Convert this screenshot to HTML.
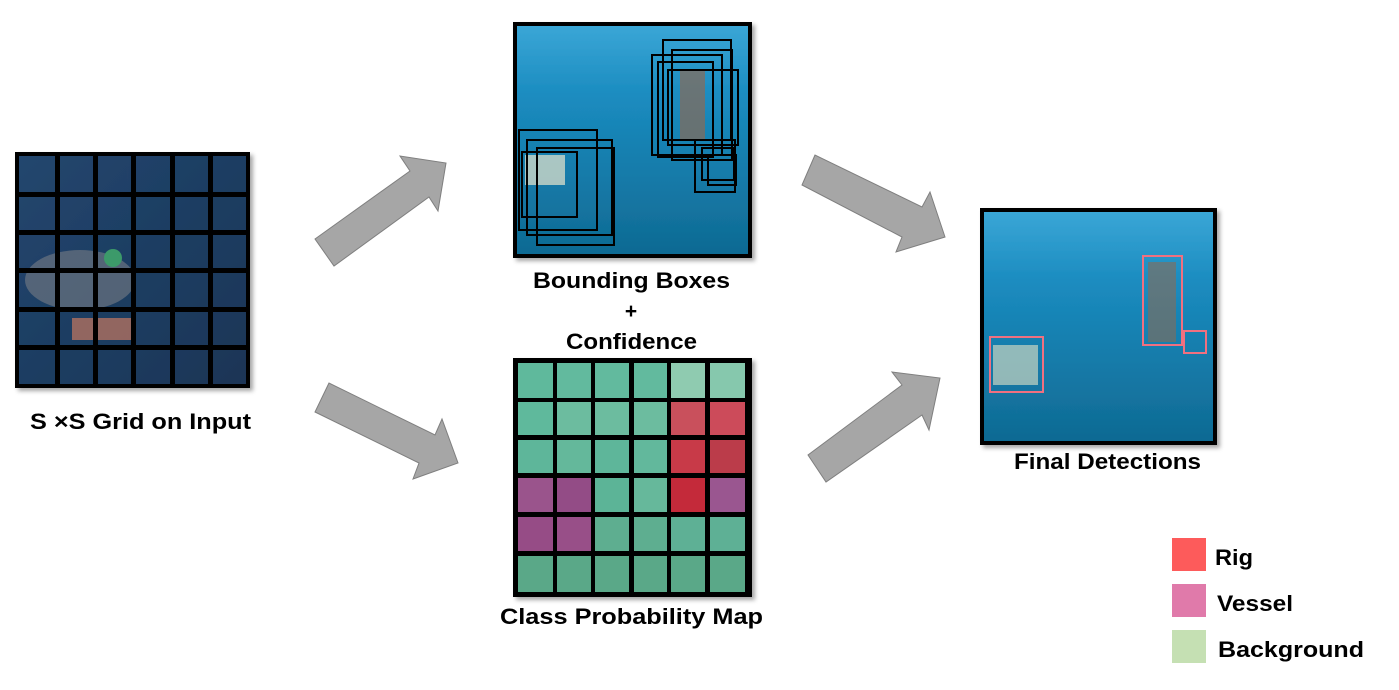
<!DOCTYPE html>
<html><head><meta charset="utf-8"><style>
html,body{margin:0;padding:0;background:#fff;width:1399px;height:690px;overflow:hidden}
svg{display:block}
text{font-family:"Liberation Sans",sans-serif;font-weight:bold;fill:#000}
</style></head><body>
<svg width="1399" height="690" viewBox="0 0 1399 690" xmlns="http://www.w3.org/2000/svg">
<defs>
<linearGradient id="sea" x1="0" y1="0" x2="0" y2="1">
<stop offset="0" stop-color="#3aa6d6"/><stop offset="0.3" stop-color="#1b8cc0"/><stop offset="1" stop-color="#0f6a93"/>
</linearGradient>
<linearGradient id="dark" x1="0" y1="0" x2="1" y2="1">
<stop offset="0" stop-color="#22466e"/><stop offset="1" stop-color="#1a3556"/>
</linearGradient>
<filter id="sh" x="-10%" y="-10%" width="120%" height="120%"><feDropShadow dx="3" dy="3" stdDeviation="2" flood-color="#000" flood-opacity="0.35"/></filter>
</defs>

<g filter="url(#sh)">
<rect x="15" y="152" width="235" height="236" fill="#000"/>
<rect x="19" y="156" width="227" height="228" fill="url(#dark)"/>
</g>
<ellipse cx="80" cy="280" rx="55" ry="30" fill="#6b7480" opacity="0.7"/>
<rect x="72" y="318" width="62" height="22" fill="#b07060" opacity="0.8"/>
<circle cx="113" cy="258" r="9" fill="#3c9a6a"/>
<g fill="#000">
<rect x="55" y="152" width="5" height="236"/><rect x="93" y="152" width="5" height="236"/><rect x="131" y="152" width="5" height="236"/><rect x="170" y="152" width="5" height="236"/><rect x="208" y="152" width="5" height="236"/>
<rect x="15" y="192" width="235" height="5"/><rect x="15" y="230" width="235" height="5"/><rect x="15" y="268" width="235" height="5"/><rect x="15" y="307" width="235" height="5"/><rect x="15" y="345" width="235" height="5"/>
</g>
<text x="30" y="429" font-size="22" textLength="221" lengthAdjust="spacingAndGlyphs">S ×S Grid on Input</text>

<g fill="#a6a6a6" stroke="#7f7f7f" stroke-width="1">
<polygon points="315,239 410,171 400,156 446,163 438,211 429,197 334,266"/>
<polygon points="329,383 315,412 419,463 413,479 458,463 442,419 435,435"/>
<polygon points="815,155 802,185 902,237 896,252 945,237 930,192 922,207"/>
<polygon points="808,455 826,482 922,415 929,430 940,378 892,372 902,385"/>
</g>

<g filter="url(#sh)">
<rect x="513" y="22" width="239" height="236" fill="#000"/>
<rect x="517" y="26" width="231" height="228" fill="url(#sea)"/>
</g>
<rect x="680" y="70" width="25" height="70" fill="#8a6a55" opacity="0.7"/>
<rect x="525" y="155" width="40" height="30" fill="#cfd8c8" opacity="0.8"/>
<g fill="none" stroke="#000" stroke-width="2">
<rect x="663" y="40" width="68" height="100"/><rect x="652" y="55" width="70" height="100"/><rect x="672" y="50" width="60" height="110"/><rect x="658" y="62" width="55" height="95"/><rect x="668" y="70" width="70" height="75"/>
<rect x="695" y="140" width="40" height="52"/><rect x="702" y="148" width="32" height="32"/><rect x="708" y="155" width="28" height="30"/>
<rect x="519" y="130" width="78" height="100"/><rect x="527" y="140" width="85" height="95"/><rect x="537" y="148" width="77" height="97"/><rect x="522" y="152" width="55" height="65"/>
</g>
<text x="533" y="288" font-size="22" textLength="197" lengthAdjust="spacingAndGlyphs">Bounding Boxes</text>
<text x="631" y="318" font-size="21" text-anchor="middle" font-weight="normal">+</text>
<text x="566" y="349" font-size="22" textLength="131" lengthAdjust="spacingAndGlyphs">Confidence</text>

<g filter="url(#sh)"><rect x="513" y="358" width="239" height="239" fill="#000"/></g>
<g>
<rect x="518" y="363" width="35" height="35" fill="#5fb99c"/><rect x="557" y="363" width="34" height="35" fill="#62ba9e"/><rect x="595" y="363" width="34" height="35" fill="#62ba9e"/><rect x="634" y="363" width="33" height="35" fill="#62ba9e"/><rect x="671" y="363" width="34" height="35" fill="#8fcbb0"/><rect x="710" y="363" width="35" height="35" fill="#86c8ad"/>
<rect x="518" y="402" width="35" height="33" fill="#5fb99c"/><rect x="557" y="402" width="34" height="33" fill="#6cbc9f"/><rect x="595" y="402" width="34" height="33" fill="#6cbc9f"/><rect x="634" y="402" width="33" height="33" fill="#6cbc9f"/><rect x="671" y="402" width="34" height="33" fill="#c9505c"/><rect x="710" y="402" width="35" height="33" fill="#cc4b5a"/>
<rect x="518" y="440" width="35" height="33" fill="#5eb69a"/><rect x="557" y="440" width="34" height="33" fill="#64b89b"/><rect x="595" y="440" width="34" height="33" fill="#5eb69a"/><rect x="634" y="440" width="33" height="33" fill="#62b89c"/><rect x="671" y="440" width="34" height="33" fill="#c83a48"/><rect x="710" y="440" width="35" height="33" fill="#bb3c4a"/>
<rect x="518" y="478" width="35" height="34" fill="#9a548c"/><rect x="557" y="478" width="34" height="34" fill="#934c86"/><rect x="595" y="478" width="34" height="34" fill="#5cb497"/><rect x="634" y="478" width="33" height="34" fill="#66b89b"/><rect x="671" y="478" width="34" height="34" fill="#c42a3a"/><rect x="710" y="478" width="35" height="34" fill="#9a5690"/>
<rect x="518" y="517" width="35" height="34" fill="#964c86"/><rect x="557" y="517" width="34" height="34" fill="#984f88"/><rect x="595" y="517" width="34" height="34" fill="#5eae90"/><rect x="634" y="517" width="33" height="34" fill="#5eae90"/><rect x="671" y="517" width="34" height="34" fill="#5eb095"/><rect x="710" y="517" width="35" height="34" fill="#5eb095"/>
<rect x="518" y="556" width="35" height="36" fill="#5aa888"/><rect x="557" y="556" width="34" height="36" fill="#5aa888"/><rect x="595" y="556" width="34" height="36" fill="#5aa888"/><rect x="634" y="556" width="33" height="36" fill="#5aa888"/><rect x="671" y="556" width="34" height="36" fill="#5aa888"/><rect x="710" y="556" width="35" height="36" fill="#5aa888"/>
</g>
<text x="500" y="624" font-size="22" textLength="263" lengthAdjust="spacingAndGlyphs">Class Probability Map</text>

<g filter="url(#sh)">
<rect x="980" y="208" width="237" height="237" fill="#000"/>
<rect x="984" y="212" width="229" height="229" fill="url(#sea)"/>
</g>
<rect x="1148" y="262" width="28" height="80" fill="#8a6a55" opacity="0.6"/>
<rect x="993" y="345" width="45" height="40" fill="#c8d4c0" opacity="0.7"/>
<g fill="none" stroke="#f07080" stroke-width="2">
<rect x="1143" y="256" width="39" height="89"/><rect x="1184" y="331" width="22" height="22"/><rect x="990" y="337" width="53" height="55"/>
</g>
<text x="1014" y="469" font-size="22" textLength="187" lengthAdjust="spacingAndGlyphs">Final Detections</text>

<rect x="1172" y="538" width="34" height="33" fill="#fd5b5b"/>
<rect x="1172" y="584" width="34" height="33" fill="#e07aaa"/>
<rect x="1172" y="630" width="34" height="33" fill="#c5e0b3"/>
<text x="1215" y="565" font-size="22" textLength="38" lengthAdjust="spacingAndGlyphs">Rig</text>
<text x="1217" y="611" font-size="22" textLength="76" lengthAdjust="spacingAndGlyphs">Vessel</text>
<text x="1218" y="657" font-size="22" textLength="146" lengthAdjust="spacingAndGlyphs">Background</text>
</svg>
</body></html>
